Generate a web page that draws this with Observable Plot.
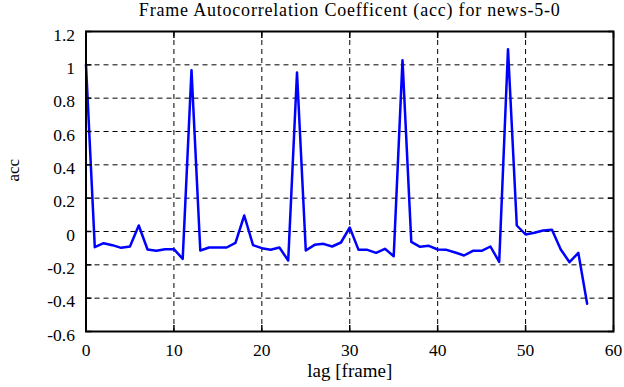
<!DOCTYPE html>
<html>
<head>
<meta charset="utf-8">
<script src="https://cdn.jsdelivr.net/npm/d3@7"></script>
<script src="https://cdn.jsdelivr.net/npm/@observablehq/plot@0.6"></script>
<style>
  html, body { margin: 0; padding: 0; background: #fff; }
  svg text { font-family: 'Liberation Serif', 'DejaVu Serif', serif !important; font-variant: normal !important; }
</style>
</head>
<body>
<div id="chart"></div>
<script>
const titleText = "Frame Autocorrelation Coefficent (acc) for news-5-0";
const xLabel = "lag [frame]";
const yLabel = "acc";

const lags = [0,1,2,3,4,5,6,7,8,9,10,11,12,13,14,15,16,17,18,19,
  20,21,22,23,24,25,26,27,28,29,30,31,32,33,34,35,36,37,38,39,
  40,41,42,43,44,45,46,47,48,49,50,51,52,53,54,55,56,57];
const acc = [1.0,-0.094,-0.07,-0.082,-0.098,-0.09,0.036,-0.108,-0.116,-0.106,
  -0.106,-0.164,0.968,-0.114,-0.096,-0.096,-0.096,-0.068,0.096,-0.082,
  -0.1,-0.11,-0.096,-0.174,0.954,-0.114,-0.08,-0.074,-0.09,-0.066,
  0.024,-0.11,-0.11,-0.128,-0.104,-0.148,1.028,-0.062,-0.092,-0.086,
  -0.108,-0.11,-0.126,-0.144,-0.116,-0.116,-0.09,-0.182,1.094,0.036,
  -0.018,-0.008,0.006,0.01,-0.108,-0.184,-0.128,-0.433];

const xTicks = [0,10,20,30,40,50,60];
const yTicks = [-0.6,-0.4,-0.2,0,0.2,0.4,0.6,0.8,1,1.2];
const xGrid = [10,20,30,40,50];
const yGrid = [-0.4,-0.2,0,0.2,0.4,0.6,0.8,1];

const data = lags.map((l, i) => ({lag: l, acc: acc[i]}));
const fmt = d => String(+d.toFixed(1));
const serif = "'Liberation Serif', 'DejaVu Serif', serif";

const chart = Plot.plot({
  width: 624,
  height: 387,
  marginTop: 31,
  marginRight: 11,
  marginBottom: 56,
  marginLeft: 85.5,
  style: {fontFamily: serif, fontSize: "17px", color: "#000", background: "#fff"},
  x: {domain: [0, 60]},
  y: {domain: [-0.6, 1.2]},
  marks: [
    Plot.gridX(xGrid, {stroke: "#000", strokeOpacity: 1, strokeDasharray: "5,4", strokeWidth: 1}),
    Plot.gridY(yGrid, {stroke: "#000", strokeOpacity: 1, strokeDasharray: "5,4", strokeWidth: 1}),
    Plot.line(data, {x: "lag", y: "acc", stroke: "#0000ff", strokeWidth: 2.5}),
    Plot.axisX(xTicks, {anchor: "bottom", tickSize: 0, tickPadding: 12.5, tickFormat: fmt, fontSize: 17.5, fontFamily: serif, label: null}),
    Plot.axisY(yTicks, {anchor: "left", tickSize: 0, tickPadding: 11, dy: 3.5, tickFormat: fmt, fontSize: 17.5, fontFamily: serif, label: null}),
    Plot.axisX(xTicks, {anchor: "bottom", tickSize: -6, fill: "none", label: null, strokeWidth: 1.5}),
    Plot.axisX(xTicks, {anchor: "top", tickSize: -6, fill: "none", label: null, strokeWidth: 1.5}),
    Plot.axisY(yTicks, {anchor: "left", tickSize: -6, fill: "none", label: null, strokeWidth: 1.5}),
    Plot.axisY(yTicks, {anchor: "right", tickSize: -6, fill: "none", label: null, strokeWidth: 1.5}),
    Plot.frame({stroke: "#000", strokeWidth: 2}),
    Plot.text([xLabel], {frameAnchor: "bottom", lineAnchor: "top", dy: 32, fontSize: 19, fontFamily: serif, fill: "#000"}),
    Plot.text([yLabel], {frameAnchor: "left", lineAnchor: "middle", rotate: -90, dx: -72, fontSize: 17, fontFamily: serif, fill: "#000"}),
    Plot.text([titleText], {frameAnchor: "top", lineAnchor: "top", dy: -28, fontSize: 18, fontFamily: serif, fill: "#000"})
  ]
});
d3.select(chart).selectAll("text")
  .filter(function() { return this.textContent === titleText; })
  .style("letter-spacing", "0.8px");
document.getElementById("chart").appendChild(chart);
</script>
</body>
</html>
